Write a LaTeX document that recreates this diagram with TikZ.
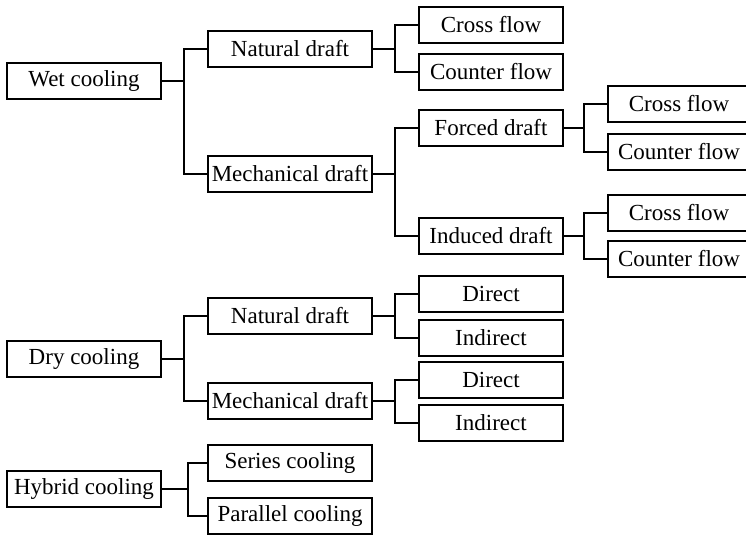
\documentclass[tikz,border=0pt]{standalone}
\usepackage{fontspec}
\setmainfont{Liberation Serif}
\begin{document}
\begin{tikzpicture}[x=1pt, y=-1pt, line width=1.8pt,
		box/.style={draw, inner sep=0pt, minimum height=36pt, font=\fontsize{23}{26}\selectfont},
		mainbox/.style={box, minimum width=154pt},
		subbox/.style={box, minimum width=164pt},
		leafbox/.style={box, minimum width=144pt},
		farbox/.style={box, minimum width=142pt}]
		\useasboundingbox (0,0) rectangle (746,537);
		\node [mainbox] (wet) at (84,81) {Wet cooling};
		\node [subbox] (wetnat) at (290,49) {Natural draft};
		\node [subbox] (wetmech) at (290,174) {Mechanical draft};
		\node [leafbox] (wetnatcross) at (491,25) {Cross flow};
		\node [leafbox] (wetnatcounter) at (491,72) {Counter flow};
		\node [leafbox] (forced) at (491,128) {Forced draft};
		\node [leafbox] (induced) at (491,236) {Induced draft};
		\node [farbox] (forcedcross) at (679,104) {Cross flow};
		\node [farbox] (forcedcounter) at (679,152) {Counter flow};
		\node [farbox] (inducedcross) at (679,213) {Cross flow};
		\node [farbox] (inducedcounter) at (679,259) {Counter flow};
		\draw (wet.east) -- ++(22,0) |- (wetnat.west);
		\draw (wet.east) -- ++(22,0) |- (wetmech.west);
		\draw (wetnat.east) -- ++(22,0) |- (wetnatcross.west);
		\draw (wetnat.east) -- ++(22,0) |- (wetnatcounter.west);
		\draw (wetmech.east) -- ++(22,0) |- (forced.west);
		\draw (wetmech.east) -- ++(22,0) |- (induced.west);
		\draw (forced.east) -- ++(20,0) |- (forcedcross.west);
		\draw (forced.east) -- ++(20,0) |- (forcedcounter.west);
		\draw (induced.east) -- ++(20,0) |- (inducedcross.west);
		\draw (induced.east) -- ++(20,0) |- (inducedcounter.west);
		\node [mainbox] (dry) at (84,359) {Dry cooling};
		\node [subbox] (drynat) at (290,316) {Natural draft};
		\node [subbox] (drymech) at (290,401) {Mechanical draft};
		\node [leafbox] (drynatdirect) at (491,294) {Direct};
		\node [leafbox] (drynatindirect) at (491,338) {Indirect};
		\node [leafbox] (drymechdirect) at (491,380) {Direct};
		\node [leafbox] (drymechindirect) at (491,423) {Indirect};
		\draw (dry.east) -- ++(22,0) |- (drynat.west);
		\draw (dry.east) -- ++(22,0) |- (drymech.west);
		\draw (drynat.east) -- ++(22,0) |- (drynatdirect.west);
		\draw (drynat.east) -- ++(22,0) |- (drynatindirect.west);
		\draw (drymech.east) -- ++(22,0) |- (drymechdirect.west);
		\draw (drymech.east) -- ++(22,0) |- (drymechindirect.west);
		\node [mainbox] (hybrid) at (84,489) {Hybrid cooling};
		\node [subbox] (series) at (290,463) {Series cooling};
		\node [subbox] (parallel) at (290,516) {Parallel cooling};
		\draw (hybrid.east) -- ++(26,0) |- (series.west);
		\draw (hybrid.east) -- ++(26,0) |- (parallel.west);
\end{tikzpicture}
\end{document}
